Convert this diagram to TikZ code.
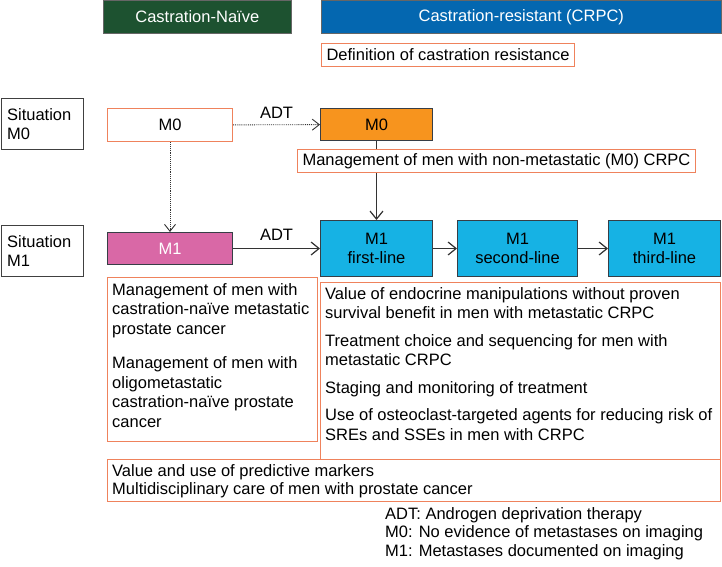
\documentclass[tikz,border=0pt]{standalone}
\usepackage{fontspec}
\setmainfont{Liberation Sans}
\usetikzlibrary{arrows.meta,backgrounds,positioning}

\definecolor{naivegreen}{RGB}{29,82,48}
\definecolor{crpcblue}{RGB}{4,103,176}
\definecolor{edgeorange}{RGB}{239,130,92}
\definecolor{mzerofill}{RGB}{247,148,30}
\definecolor{monefill}{RGB}{217,104,166}
\definecolor{linefill}{RGB}{22,178,228}
\definecolor{darkedge}{RGB}{55,62,70}

\newcommand{\setupgrid}{
    \coordinate (h0) at (103,0);
    \coordinate (h1) at (321,0);
    \coordinate (d0) at (321,43);

    \coordinate (s0) at (0.6,98);
    \coordinate (s1) at (0.6,225);

    \coordinate (z0) at (107,108);
    \coordinate (z1) at (320,108);
    \coordinate (z2) at (297,149);

    \coordinate (u0) at (107,232);
    \coordinate (u1) at (320,220);
    \coordinate (u2) at (457,220);
    \coordinate (u3) at (608,220);

    \coordinate (b0) at (107,277);
    \coordinate (b1) at (320,282);
    \coordinate (b2) at (107,459);
    \coordinate (l0) at (385,507);
}

\tikzset{
    every node/.style={font=\fontsize{16.5}{19.5}\selectfont},
    hdr/.style={anchor=north west, inner sep=0pt, text=white, draw=black!60,
        line width=0.6pt, minimum height=33pt},
    obox/.style={anchor=north west, draw=edgeorange, line width=1.1pt, fill=white,
        inner xsep=5pt, inner ysep=0pt, minimum height=23pt},
    sitbox/.style={anchor=north west, draw=black!75, line width=1pt, align=left,
        text width=70pt, inner xsep=6pt, minimum height=51pt},
    stage/.style={anchor=north west, draw=darkedge, line width=1pt, minimum height=33pt},
    linebox/.style={anchor=north west, draw=darkedge, line width=1pt, fill=linefill,
        align=center, minimum height=56pt},
    txt/.style={anchor=north west, inner sep=0pt, align=left},
    arr/.style={draw=black!80, line width=1.2pt, -{Straight Barb[length=8pt,width=13pt]}},
    dotarr/.style={draw=black!80, line width=0.9pt, densely dotted,
        -{Straight Barb[length=7pt,width=11pt]}}
}

\begin{document}
\begin{tikzpicture}[x=1pt,y=-1pt]
    \useasboundingbox (0,0) rectangle (722,566);
    \setupgrid;

    % column headers
    \node (naive) [hdr, fill=naivegreen, minimum width=188pt] at (h0) {Castration-Naïve};
    \node (crpc) [hdr, fill=crpcblue, minimum width=400pt] at (h1) {Castration-resistant (CRPC)};
    \node (defn) [obox] at (d0) {Definition of castration resistance};

    \node (sitA) [sitbox] at (s0) {Situation\\M0};
    \node (sitB) [sitbox] at (s1) {Situation\\M1};

    % M0 row
    \node (m0n) [stage, draw=edgeorange, fill=white, minimum width=125pt] at (z0) {M0};
    \node (m0c) [stage, fill=mzerofill, minimum width=112pt, minimum height=32pt] at (z1) {M0};
    \node (mgmt) [obox] at (z2) {Management of men with non-metastatic (M0) CRPC};

    % M1 row
    \node (m1n) [stage, fill=monefill, text=white, minimum width=125pt, minimum height=32pt] at (u0) {M1};
    \node (first) [linebox, minimum width=112pt] at (u1) {M1\\first-line};
    \node (second) [linebox, minimum width=120pt] at (u2) {M1\\second-line};
    \node (third) [linebox, minimum width=112pt] at (u3) {M1\\third-line};

    % topic boxes
    \node (boxn) [obox, minimum width=210pt, minimum height=164pt] at (b0) {};
    \node (boxc) [obox, minimum width=400pt, minimum height=177pt] at (b1) {};
    \node (boxall) [obox, minimum width=613pt, minimum height=42pt] at (b2) {};

    \node (txtn) [txt] at ([shift={(5,6)}]boxn.north west)
        {Management of men with\\castration-naïve metastatic\\prostate cancer\\[15pt]
         Management of men with\\oligometastatic\\castration-naïve prostate\\cancer};
    \node (txtc) [txt] at ([shift={(5,5)}]boxc.north west)
        {Value of endocrine manipulations without proven\\survival benefit in men with metastatic CRPC\\[8pt]
         Treatment choice and sequencing for men with\\metastatic CRPC\\[8pt]
         Staging and monitoring of treatment\\[8pt]
         Use of osteoclast-targeted agents for reducing risk of\\SREs and SSEs in men with CRPC};
    \node (txtall) [txt, font=\fontsize{16.5}{18}\selectfont] at ([shift={(5,5)}]boxall.north west)
        {Value and use of predictive markers\\Multidisciplinary care of men with prostate cancer};

    \node (legend) [txt, font=\fontsize{16.5}{18.5}\selectfont] at (l0)
        {ADT: Androgen deprivation therapy\\M0: No evidence of metastases on imaging\\M1: Metastases documented on imaging};

    % connectors
    \draw[dotarr] (m0n) -- (m0c) node (adtA) [midway, above=2pt] {ADT};
    \draw[dotarr] (m0n) -- (m1n);
    \draw[arr] (m1n) -- (first) node (adtB) [midway, above=4pt] {ADT};
    \draw[arr] (first) -- (second);
    \draw[arr] (second) -- (third);
    \begin{scope}[on background layer]
        \draw[arr] (m0c) -- (first);
    \end{scope}
\end{tikzpicture}
\end{document}
